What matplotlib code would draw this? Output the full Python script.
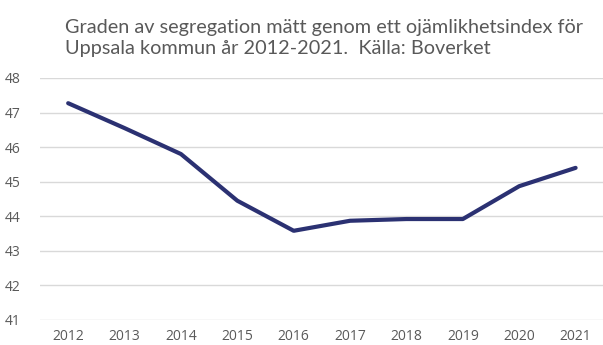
import matplotlib.pyplot as plt

# Segregationsindex för Uppsala kommun
years = ['2012', '2013', '2014', '2015', '2016', '2017', '2018', '2019', '2020', '2021']
index_values = [47.27, 46.55, 45.8, 44.45, 43.58, 43.87, 43.92, 43.92, 44.87, 45.4]
y_ticks = [41, 42, 43, 44, 45, 46, 47, 48]

fig = plt.figure(figsize=(6.03, 3.45), dpi=100)
ax = fig.add_axes([0.0663, 0.0725, 0.935, 0.7015])

x = range(len(years))
ax.plot(x, index_values, color='#2b3172', linewidth=3, solid_capstyle='round')

ax.set_xlim(-0.5, len(years) - 0.5)
ax.set_ylim(41, 48)
ax.set_yticks(y_ticks)
ax.set_xticks(list(x))
ax.set_xticklabels(years)
ax.grid(axis='y', color='#d9d9d9', linewidth=1)
ax.set_axisbelow(True)
for s in ax.spines.values():
    s.set_visible(False)
ax.tick_params(length=0, labelsize=10, labelcolor='#595959')
ax.tick_params(axis='x', pad=6.5)
ax.tick_params(axis='y', pad=14)
for lbl in ax.get_xticklabels() + ax.get_yticklabels():
    lbl.set_fontfamily('Open Sans')

fig.text(0.108, 0.835, 'Graden av segregation mätt genom ett ojämlikhetsindex för\n'
         'Uppsala kommun år 2012-2021.  Källa: Boverket',
         fontsize=14.3, color='#595959', family='Lato', linespacing=1.25,
         ha='left', va='bottom')

fig.savefig('out.png', dpi=100)
